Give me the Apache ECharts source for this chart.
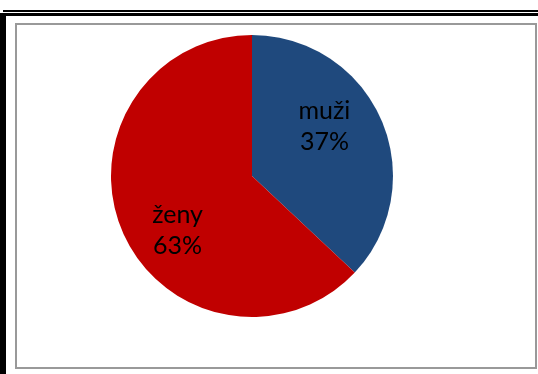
<!DOCTYPE html>
<html>
<head>
<meta charset="utf-8">
<script src="https://cdn.jsdelivr.net/npm/echarts@6/dist/echarts.min.js"></script>
<style>
  html, body { margin: 0; padding: 0; background: #fff; }
  #chart { width: 538px; height: 374px; }
</style>
</head>
<body>
<div id="chart"></div>
<script>
const categories = ['muži', 'ženy'];
const values = [37, 63];
const colors = ['#1f497d', '#c00000'];

// label shifts to match where Excel put them
const labelShift = [[5, -20], [-7, 25]];

const myChart = echarts.init(document.getElementById('chart'));
const option = {
  animation: false,
  backgroundColor: '#fff',
  graphic: [
    // black frame lines
    { type: 'rect', shape: { x: 3, y: 10, width: 535, height: 2 }, style: { fill: '#000' } },
    { type: 'rect', shape: { x: 0, y: 13, width: 538, height: 3 }, style: { fill: '#000' } },
    { type: 'rect', shape: { x: 0, y: 13, width: 6, height: 361 }, style: { fill: '#000' } },
    // gray chart area border
    { type: 'rect', shape: { x: 16, y: 24, width: 520, height: 344 },
      style: { fill: 'none', stroke: '#999', lineWidth: 2 } }
  ],
  series: [
    {
      type: 'pie',
      center: [252, 176],
      radius: 141,
      startAngle: 90,
      clockwise: true,
      silent: true,
      data: categories.map((c, i) => ({
        name: c,
        value: values[i],
        itemStyle: { color: colors[i] }
      })),
      label: {
        show: true,
        position: 'inside',
        formatter: '{b}\n{c}%',
        fontFamily: 'Lato',
        fontSize: 25,
        lineHeight: 31,
        color: '#000'
      },
      labelLayout: function (params) {
        const s = labelShift[params.dataIndex];
        return { dx: s[0], dy: s[1] };
      },
      labelLine: { show: false }
    }
  ]
};
myChart.setOption(option);
window.addEventListener('resize', function () {
  myChart.resize();
});
</script>
</body>
</html>
